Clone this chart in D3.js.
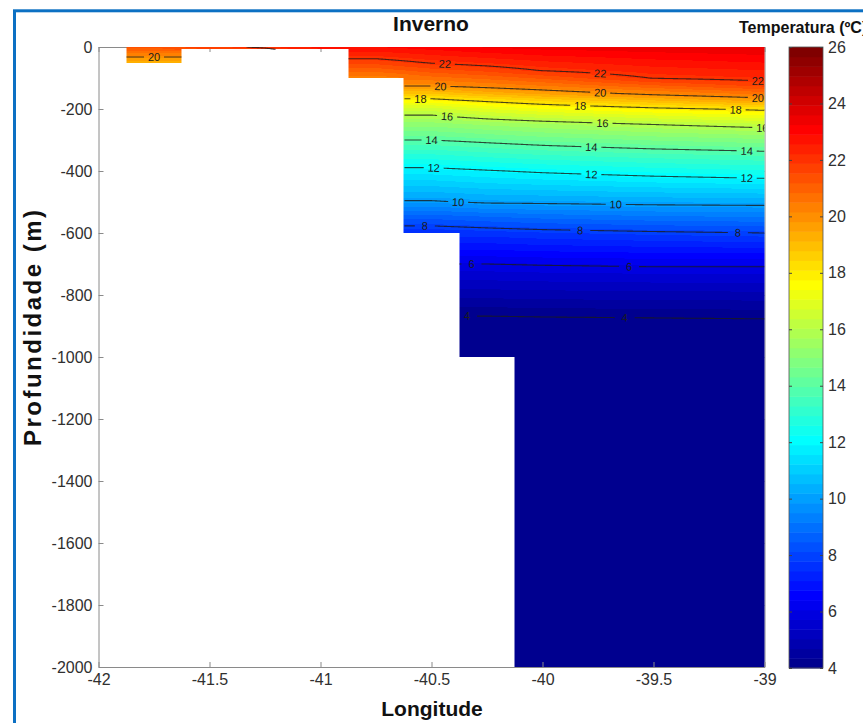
<!DOCTYPE html>
<html>
<head>
<meta charset="utf-8">
<script src="https://cdn.jsdelivr.net/npm/d3@7"></script>
<style>
  html, body { margin: 0; padding: 0; background: #fff; }
  svg { display: block; font-family: "Liberation Sans", Arial, Helvetica, sans-serif; }
</style>
</head>
<body>
<script>
// ---- Winter temperature section (Inverno) ----

// Depth levels of the CTD profiles (m)
const profileDepths = [0, 10, 25, 50, 75, 100, 125, 150, 175, 200, 250, 300, 350, 400, 450, 500, 550, 600, 700, 800, 900, 1000, 1500, 2000];

// Station longitudes
const stationLons = [-41.75, -41.5, -41.25, -41.0, -40.75, -40.5, -40.25, -40.0, -39.5, -39.0];

// Temperature profiles (°C) per station; null below the sea floor
const tempW4175 = [21.3, 20.9, 20.28, 19.3, null, null, null, null, null, null, null, null, null, null, null, null, null, null, null, null, null, null, null, null];
const tempW4150 = [21.8, 21.5, null, null, null, null, null, null, null, null, null, null, null, null, null, null, null, null, null, null, null, null, null, null];
const tempW4125 = [22.1, 21.8, null, null, null, null, null, null, null, null, null, null, null, null, null, null, null, null, null, null, null, null, null, null];
const tempW4100 = [22.7, 22.5, null, null, null, null, null, null, null, null, null, null, null, null, null, null, null, null, null, null, null, null, null, null];
const tempW4075 = [22.9, 22.67, 22.32, 21.69, 20.99, 20.28, null, null, null, null, null, null, null, null, null, null, null, null, null, null, null, null, null, null];
const tempW4050 = [23.1, 22.89, 22.58, 22.06, 21.40, 20.71, 20.03, 18.8, 17.62, 16.55, 15.15, 14.0, 12.85, 11.76, 10.85, 9.92, 8.57, 7.51, null, null, null, null, null, null];
const tempW4025 = [23.3, 23.09, 22.78, 22.27, 21.66, 20.96, 20.25, 19.24, 18.05, 17.04, 15.41, 14.20, 13.06, 11.94, 11.02, 10.09, 8.75, 7.63, 6.0, 4.81, 3.62, 3.45, null, null];
const tempW4000 = [23.4, 23.22, 22.95, 22.49, 22.04, 21.28, 20.5, 19.58, 18.42, 17.37, 15.63, 14.40, 13.24, 12.11, 11.11, 10.12, 8.89, 7.75, 6.05, 4.85, 3.65, 3.45, 3.0, 2.6];
const tempW3950 = [23.5, 23.35, 23.13, 22.76, 22.40, 22.03, 21.13, 20.19, 19.0, 17.82, 16.0, 14.70, 13.48, 12.36, 11.28, 10.21, 9.05, 7.89, 6.11, 4.88, 3.69, 3.47, 3.0, 2.6];
const tempW3900 = [23.6, 23.46, 23.26, 22.91, 22.57, 22.22, 21.64, 20.64, 19.51, 18.16, 16.29, 14.91, 13.66, 12.54, 11.40, 10.25, 9.12, 8.0, 6.11, 4.90, 3.73, 3.5, 3.0, 2.6];

// Sea-floor steps: longitude edges and bottom depth (m) between them
const floorEdges = [-41.875, -41.625, -40.875, -40.625, -40.375, -40.125, -39.0];
const floorDepths = [50, 8, 100, 600, 1000, 2000];

// Isotherms drawn and the longitudes where each one is labelled
const contourLevels = [4, 6, 8, 10, 12, 14, 16, 18, 20, 22];
const labelLevels = [22, 22, 22, 20, 20, 20, 20, 18, 18, 18, 16, 16, 16, 14, 14, 14, 12, 12, 12, 10, 10, 8, 8, 8, 6, 6, 4, 4];
const labelLons   = [-40.44, -39.74, -39.03, -41.75, -40.46, -39.74, -39.03, -40.55, -39.83, -39.13, -40.43, -39.73, -39.01, -40.50, -39.78, -39.08, -40.49, -39.78, -39.08, -40.38, -39.67, -40.53, -39.83, -39.12, -40.32, -39.61, -40.34, -39.63];

// Axis ticks
const lonTicks = [-42, -41.5, -41, -40.5, -40, -39.5, -39];
const depthTicks = [0, -200, -400, -600, -800, -1000, -1200, -1400, -1600, -1800, -2000];
const colorTicks = [4, 6, 8, 10, 12, 14, 16, 18, 20, 22, 24, 26];
const colorRange = [4, 26];

const profiles = [tempW4175, tempW4150, tempW4125, tempW4100, tempW4075, tempW4050, tempW4025, tempW4000, tempW3950, tempW3900];

// ---- layout ----
const W = 863, H = 723;
const plot = { left: 98.5, right: 764.5, top: 47, bottom: 667 };
const cbar = { left: 789, right: 823, top: 47, bottom: 668 };

const x = d3.scaleLinear().domain([-42, -39]).range([plot.left, plot.right]);
const y = d3.scaleLinear().domain([-2000, 0]).range([plot.bottom, plot.top]);
const cY = d3.scaleLinear().domain(colorRange).range([cbar.bottom, cbar.top]);

// MATLAB-style jet colormap with m entries
function jetColormap(m) {
  const n = Math.ceil(m / 4);
  const u = [];
  for (let i = 1; i <= n; i++) u.push(i / n);
  for (let i = 1; i < n; i++) u.push(1);
  for (let i = n; i >= 1; i--) u.push(i / n);
  const g0 = Math.ceil(n / 2) - (m % 4 === 1 ? 1 : 0);
  const cmap = Array.from({ length: m }, () => [0, 0, 0]);
  u.forEach((val, j) => {
    const g = g0 + j + 1, r = g + n, b = g - n;
    if (r >= 1 && r <= m) cmap[r - 1][0] = val;
    if (g >= 1 && g <= m) cmap[g - 1][1] = val;
    if (b >= 1 && b <= m) cmap[b - 1][2] = val;
  });
  return cmap;
}
const jet = jetColormap(64);
const colorIndex = d3.scaleQuantize().domain(colorRange).range(d3.range(64));
function colorOf(t) {
  const c = jet[colorIndex(Math.max(colorRange[0], Math.min(colorRange[1] - 1e-9, t)))];
  return c.map(v => Math.round(v * 255));
}

// value of one profile at depth z (linear between levels)
function profileValue(p, z) {
  let k = d3.bisectRight(profileDepths, z) - 1;
  k = Math.max(0, Math.min(profileDepths.length - 2, k));
  const z0 = profileDepths[k], z1 = profileDepths[k + 1];
  const f = (z - z0) / (z1 - z0);
  const a = p[k], b = p[k + 1];
  if (a == null) return null;
  if (b == null) return f <= 1e-9 ? a : null;
  return a + f * (b - a);
}

// temperature at (lon, depth) from the neighbouring stations
function temperatureAt(lon, z) {
  const last = stationLons.length - 1;
  let i = d3.bisectRight(stationLons, lon) - 1;
  if (i < 0) return profileValue(profiles[0], z);
  if (i >= last) return profileValue(profiles[last], z);
  const va = profileValue(profiles[i], z), vb = profileValue(profiles[i + 1], z);
  if (va == null) return vb;
  if (vb == null) return va;
  const f = (lon - stationLons[i]) / (stationLons[i + 1] - stationLons[i]);
  return va + f * (vb - va);
}

function floorAt(lon) {
  for (let i = 0; i < floorDepths.length; i++) {
    if (lon >= floorEdges[i] && lon <= floorEdges[i + 1]) return floorDepths[i];
  }
  return 0;
}

// depth where the isotherm `level` crosses the water column at lon
function isothermDepth(lon, level) {
  const zb = floorAt(lon);
  if (!zb) return null;
  const t0 = temperatureAt(lon, 0), tb = temperatureAt(lon, zb);
  if (t0 == null || tb == null || level > t0 || level < tb) return null;
  let lo = 0, hi = zb;
  for (let it = 0; it < 40; it++) {
    const mid = (lo + hi) / 2;
    if (temperatureAt(lon, mid) > level) lo = mid; else hi = mid;
  }
  return (lo + hi) / 2;
}

// ---- svg ----
const svg = d3.select("body").append("svg").attr("width", W).attr("height", H);

svg.append("rect").attr("width", W).attr("height", H).attr("fill", "#fff");

// outer frame
svg.append("rect")
  .attr("x", 14.5).attr("y", 10.8).attr("width", W + 40).attr("height", H + 40)
  .attr("fill", "none").attr("stroke", "#0c70c3").attr("stroke-width", 3);

const defs = svg.append("defs");
defs.append("clipPath").attr("id", "plotClip")
  .append("rect").attr("x", plot.left).attr("y", plot.top)
  .attr("width", plot.right - plot.left).attr("height", plot.bottom - plot.top);

// axes box (drawn below the field)
const axisColor = "#8a8a8a";
const textColor = "#303030";

function styleAxis(g) {
  g.selectAll(".domain").attr("stroke", axisColor);
  g.selectAll(".tick line").attr("stroke", axisColor);
  g.selectAll(".tick text").attr("fill", textColor).attr("font-size", 16);
}

svg.append("g").attr("transform", `translate(0,${plot.top})`)
  .call(d3.axisTop(x).tickValues(lonTicks).tickSizeInner(-5).tickSizeOuter(0).tickFormat(""))
  .call(styleAxis);
svg.append("g").attr("transform", `translate(${plot.right},0)`)
  .call(d3.axisRight(y).tickValues(depthTicks).tickSizeInner(-5).tickSizeOuter(0).tickFormat(""))
  .call(styleAxis);

// ---- temperature field raster ----
const pw = Math.round(plot.right - plot.left), ph = Math.round(plot.bottom - plot.top);
const canvas = document.createElement("canvas");
canvas.width = pw; canvas.height = ph;
const ctx = canvas.getContext("2d");
const img = ctx.createImageData(pw, ph);
for (let px = 0; px < pw; px++) {
  const lon = x.invert(plot.left + px + 0.5);
  const zb = floorAt(lon);
  for (let py = 0; py < ph; py++) {
    const z = -y.invert(plot.top + py + 0.5);
    const o = (py * pw + px) * 4;
    if (!zb || z > zb) { img.data[o + 3] = 0; continue; }
    const t = temperatureAt(lon, z);
    if (t == null) { img.data[o + 3] = 0; continue; }
    const c = colorOf(t);
    img.data[o] = c[0]; img.data[o + 1] = c[1]; img.data[o + 2] = c[2]; img.data[o + 3] = 255;
  }
}
ctx.putImageData(img, 0, 0);
svg.append("image")
  .attr("x", plot.left).attr("y", plot.top)
  .attr("width", pw).attr("height", ph)
  .attr("preserveAspectRatio", "none")
  .attr("href", canvas.toDataURL());

// ---- isotherms ----
const lonSamples = d3.range(plot.left, plot.right + 0.01, 1).map(px => x.invert(px));

const labels = labelLevels.map((lev, i) => {
  const lon = labelLons[i];
  const z = isothermDepth(lon, lev);
  if (z == null) return null;
  const za = isothermDepth(lon - 0.04, lev), zc = isothermDepth(lon + 0.04, lev);
  let ang = 0;
  if (za != null && zc != null) {
    ang = Math.atan2(y(-zc) - y(-za), x(lon + 0.04) - x(lon - 0.04)) * 180 / Math.PI;
  }
  return { level: lev, cx: x(lon), cy: y(-z), ang };
}).filter(d => d);

// gaps in the isotherms under their labels
const mask = defs.append("mask").attr("id", "labelGaps").attr("maskUnits", "userSpaceOnUse")
  .attr("x", 0).attr("y", 0).attr("width", W).attr("height", H);
mask.append("rect").attr("width", W).attr("height", H).attr("fill", "#fff");
mask.selectAll("rect.gap").data(labels).join("rect").attr("class", "gap")
  .attr("x", -10).attr("y", -6).attr("width", 20).attr("height", 12)
  .attr("fill", "#000")
  .attr("transform", d => `translate(${d.cx},${d.cy}) rotate(${d.ang})`);

const line = d3.line()
  .defined(d => d.z != null)
  .x(d => x(d.lon))
  .y(d => y(-d.z));

const contourG = svg.append("g").attr("clip-path", "url(#plotClip)")
  .append("g").attr("mask", "url(#labelGaps)");
contourG.selectAll("path").data(contourLevels).join("path")
  .attr("d", lev => line(lonSamples.map(lon => ({ lon, z: isothermDepth(lon, lev) }))))
  .attr("fill", "none").attr("stroke", "#1c1c1c").attr("stroke-width", 1.1)
  .attr("stroke-opacity", 0.8);

svg.append("g").attr("clip-path", "url(#plotClip)")
  .selectAll("text").data(labels).join("text")
  .attr("transform", d => `translate(${d.cx},${d.cy}) rotate(${d.ang})`)
  .attr("text-anchor", "middle").attr("dy", "0.36em")
  .attr("font-size", 11).attr("fill", "#1c1c1c")
  .text(d => d.level);

// ---- left and bottom axes ----
svg.append("g").attr("transform", `translate(${plot.left},0)`)
  .call(d3.axisLeft(y).tickValues(depthTicks).tickSizeInner(-5).tickSizeOuter(0).tickPadding(6).tickFormat(d => String(d)))
  .call(styleAxis);
svg.append("g").attr("transform", `translate(0,${plot.bottom})`)
  .call(d3.axisBottom(x).tickValues(lonTicks).tickSizeInner(-5).tickSizeOuter(0).tickPadding(7).tickFormat(d => String(d)))
  .call(styleAxis);

// ---- colorbar ----
const bands = d3.range(64);
const bandH = (cbar.bottom - cbar.top) / 64;
svg.append("g").selectAll("rect").data(bands).join("rect")
  .attr("x", cbar.left).attr("width", cbar.right - cbar.left)
  .attr("y", i => cY(colorRange[0] + (i + 1) * (colorRange[1] - colorRange[0]) / 64))
  .attr("height", bandH + 0.5)
  .attr("fill", i => `rgb(${jet[i].map(v => Math.round(v * 255)).join(",")})`);
svg.append("rect")
  .attr("x", cbar.left).attr("y", cbar.top)
  .attr("width", cbar.right - cbar.left).attr("height", cbar.bottom - cbar.top)
  .attr("fill", "none").attr("stroke", "#555").attr("stroke-width", 0.8);
svg.append("g").attr("transform", `translate(${cbar.right},0)`)
  .call(d3.axisRight(cY).tickValues(colorTicks).tickSizeInner(-3).tickSizeOuter(0).tickPadding(5).tickFormat(d => String(d)))
  .call(g => g.select(".domain").remove())
  .call(g => g.selectAll(".tick line").attr("stroke", "#444"))
  .call(g => g.selectAll(".tick text").attr("fill", textColor).attr("font-size", 16));
svg.append("g").attr("transform", `translate(${cbar.left},0)`)
  .call(d3.axisLeft(cY).tickValues(colorTicks).tickSizeInner(-3).tickSizeOuter(0).tickFormat(""))
  .call(g => g.select(".domain").remove())
  .call(g => g.selectAll(".tick line").attr("stroke", "#444"));

// ---- titles ----
svg.append("text")
  .attr("x", 431).attr("y", 31).attr("text-anchor", "middle")
  .attr("font-size", 21).attr("font-weight", "bold").attr("fill", "#111")
  .text("Inverno");
svg.append("text")
  .attr("x", 739).attr("y", 33)
  .attr("font-size", 16).attr("font-weight", "bold").attr("fill", "#111")
  .text("Temperatura (ºC)");
svg.append("text")
  .attr("transform", `translate(41,328) rotate(-90)`).attr("text-anchor", "middle")
  .attr("font-size", 24).attr("font-weight", "bold").attr("fill", "#111")
  .attr("textLength", 236).attr("lengthAdjust", "spacing")
  .text("Profundidade (m)");
svg.append("text")
  .attr("x", 432).attr("y", 716).attr("text-anchor", "middle")
  .attr("font-size", 21).attr("font-weight", "bold").attr("fill", "#111")
  .text("Longitude");
</script>
</body>
</html>
